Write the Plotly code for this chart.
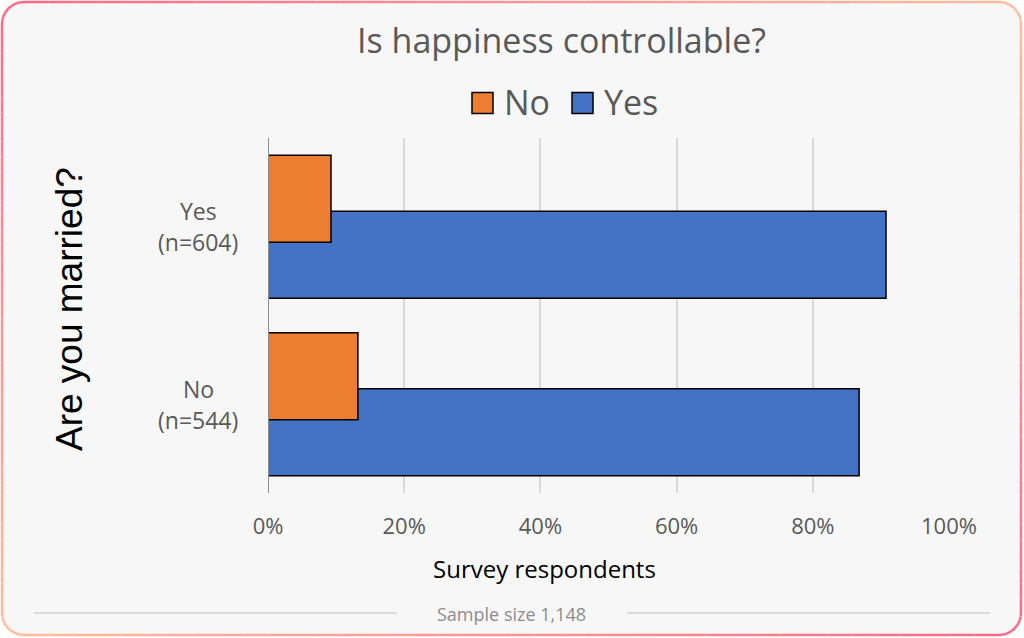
import math
import plotly.graph_objects as go

# ---------------- data ----------------
categories = ["No (n=544)", "Yes (n=604)"]          # bottom -> top
category_lines = [["No", "(n=544)"], ["Yes", "(n=604)"]]
series_names = ["No", "Yes"]
no_values = [0.132, 0.0925]
yes_values = [0.868, 0.9075]
x_tickvals = [0, 0.2, 0.4, 0.6, 0.8, 1.0]
x_ticklabels = ["0%", "20%", "40%", "60%", "80%", "100%"]
title_text = "Is happiness controllable?"
y_title = "Are you married?"
x_title = "Survey respondents"
footer_text = "Sample size 1,148"

# ---------------- layout geometry ----------------
W, H = 1024, 638
L, R, T, B = 268, 75, 138, 145
PW = W - L - R
PH = H - T - B

ORANGE = "#ED7D31"
BLUE = "#4472C4"
GRAY = "#595959"
FONT = "Open Sans"
WEIGHT = 500


def px(x):
    return (x - L) / PW


def py(y):
    return (H - B - y) / PH


positions = list(range(len(categories)))
bar_w = 0.49

fig = go.Figure()
fig.add_trace(go.Bar(
    y=positions, x=yes_values, orientation="h", name=series_names[1],
    offset=-0.403, width=bar_w,
    marker=dict(color=BLUE, line=dict(color="#000000", width=1.5)),
    showlegend=False, hoverinfo="x+name"))
fig.add_trace(go.Bar(
    y=positions, x=no_values, orientation="h", name=series_names[0],
    offset=-0.087, width=bar_w,
    marker=dict(color=ORANGE, line=dict(color="#000000", width=1.5)),
    showlegend=False, hoverinfo="x+name"))

shapes = []
annotations = []

# background rounded rectangle
x0, y0, x1, y1, rad = 2, 2, 1021, 635, 22


def rr_path(x0, y0, x1, y1, r):
    X = lambda v: px(v)
    Y = lambda v: py(v)
    return (f"M{X(x0+r)},{Y(y0)} L{X(x1-r)},{Y(y0)} Q{X(x1)},{Y(y0)} {X(x1)},{Y(y0+r)} "
            f"L{X(x1)},{Y(y1-r)} Q{X(x1)},{Y(y1)} {X(x1-r)},{Y(y1)} "
            f"L{X(x0+r)},{Y(y1)} Q{X(x0)},{Y(y1)} {X(x0)},{Y(y1-r)} "
            f"L{X(x0)},{Y(y0+r)} Q{X(x0)},{Y(y0)} {X(x0+r)},{Y(y0)} Z")


shapes.append(dict(type="path", xref="paper", yref="paper", path=rr_path(x0, y0, x1, y1, rad),
                   fillcolor="#F7F7F7", line=dict(width=0), layer="below"))

# gradient border (decorative): sample rounded-rect outline
pts = []
n_edge = 40
n_arc = 10
for i in range(n_edge):
    pts.append((x0 + rad + (x1 - x0 - 2 * rad) * i / n_edge, y0))
for k in range(n_arc):
    a = -math.pi / 2 + (math.pi / 2) * k / n_arc
    pts.append((x1 - rad + rad * math.cos(a), y0 + rad + rad * math.sin(a)))
for i in range(n_edge):
    pts.append((x1, y0 + rad + (y1 - y0 - 2 * rad) * i / n_edge))
for k in range(n_arc):
    a = (math.pi / 2) * k / n_arc
    pts.append((x1 - rad + rad * math.cos(a), y1 - rad + rad * math.sin(a)))
for i in range(n_edge):
    pts.append((x1 - rad - (x1 - x0 - 2 * rad) * i / n_edge, y1))
for k in range(n_arc):
    a = math.pi / 2 + (math.pi / 2) * k / n_arc
    pts.append((x0 + rad + rad * math.cos(a), y1 - rad + rad * math.sin(a)))
for i in range(n_edge):
    pts.append((x0, y1 - rad - (y1 - y0 - 2 * rad) * i / n_edge))
for k in range(n_arc):
    a = math.pi + (math.pi / 2) * k / n_arc
    pts.append((x0 + rad + rad * math.cos(a), y0 + rad + rad * math.sin(a)))
pts.append(pts[0])

c_pink = (255, 102, 133)
c_peach = (255, 190, 160)
for (ax, ay), (bx, by) in zip(pts[:-1], pts[1:]):
    mx, my = (ax + bx) / 2, (ay + by) / 2
    s = abs(mx / W - my / H)
    col = tuple(int(c_pink[j] + (c_peach[j] - c_pink[j]) * s) for j in range(3))
    shapes.append(dict(type="line", xref="paper", yref="paper",
                       x0=px(ax), y0=py(ay), x1=px(bx), y1=py(by),
                       line=dict(color=f"rgb{col}", width=2.5), layer="above"))

# footer lines
shapes.append(dict(type="line", xref="paper", yref="paper", x0=px(34), x1=px(397), y0=py(613), y1=py(613),
                   line=dict(color="#BFBFBF", width=1.2)))
shapes.append(dict(type="line", xref="paper", yref="paper", x0=px(627), x1=px(990), y0=py(613), y1=py(613),
                   line=dict(color="#BFBFBF", width=1.2)))

# legend (manual, larger swatches)
legend_items = [(series_names[0], ORANGE, 472), (series_names[1], BLUE, 572)]
for name, col, sx in legend_items:
    shapes.append(dict(type="rect", xref="paper", yref="paper",
                       x0=px(sx), x1=px(sx + 21), y0=py(92.5), y1=py(113.5),
                       fillcolor=col, line=dict(color="#000000", width=1.5)))
    annotations.append(dict(text=name, xref="paper", yref="paper", x=px(sx + 30), y=py(102),
                            xanchor="left", yanchor="middle", showarrow=False,
                            font=dict(family=FONT, size=34, color=GRAY, weight=WEIGHT)))

# category labels
for pos, lines in zip(positions, category_lines):
    for j, line in enumerate(lines):
        annotations.append(dict(text=line, xref="paper", yref="y", x=px(198), y=pos,
                                yshift=15.5 - 31 * j, xanchor="center", yanchor="middle",
                                showarrow=False, font=dict(family=FONT, size=23, color=GRAY, weight=WEIGHT)))

# title
annotations.append(dict(text=title_text, xref="paper", yref="paper", x=px(561), y=py(40),
                        xanchor="center", yanchor="middle", showarrow=False,
                        font=dict(family=FONT, size=34, color=GRAY, weight=WEIGHT)))
# y title
annotations.append(dict(text=y_title, xref="paper", yref="paper", x=px(69), y=py(309),
                        xanchor="center", yanchor="middle", showarrow=False, textangle=-90,
                        font=dict(family="Liberation Sans", size=37, color="#000000")))
# x title
annotations.append(dict(text=x_title, xref="paper", yref="paper", x=px(544), y=py(568),
                        xanchor="center", yanchor="middle", showarrow=False,
                        font=dict(family=FONT, size=24, color="#000000", weight=WEIGHT)))
# footer
annotations.append(dict(text=footer_text, xref="paper", yref="paper", x=px(511), y=py(614),
                        xanchor="center", yanchor="middle", showarrow=False,
                        font=dict(family=FONT, size=18, color="#8C8C8C", weight=WEIGHT)))

fig.update_layout(
    width=W, height=H,
    margin=dict(l=L, r=R, t=T, b=B, pad=0),
    paper_bgcolor="#FFFFFF", plot_bgcolor="rgba(0,0,0,0)",
    barmode="overlay", showlegend=False,
    shapes=shapes, annotations=annotations,
    xaxis=dict(range=[0, 1], tickvals=x_tickvals, ticktext=x_ticklabels,
               showgrid=True, gridcolor="#D9D9D9", gridwidth=1.5, zeroline=False,
               showline=False, ticks="", ticklen=0, ticklabelstandoff=18,
               tickfont=dict(family=FONT, size=22, color=GRAY, weight=WEIGHT)),
    yaxis=dict(range=[-0.5, 1.5], tickvals=positions, showticklabels=False,
               showgrid=False, zeroline=False, showline=False, ticks=""),
)

# y axis line at x = 0
fig.add_shape(type="line", xref="x", yref="paper", x0=0, x1=0, y0=0, y1=1,
              line=dict(color="#8C8C8C", width=2))

fig.write_html("out.html", config={"displayModeBar": False},
               post_script="document.body.style.margin='0px';document.body.style.overflow='hidden';")
